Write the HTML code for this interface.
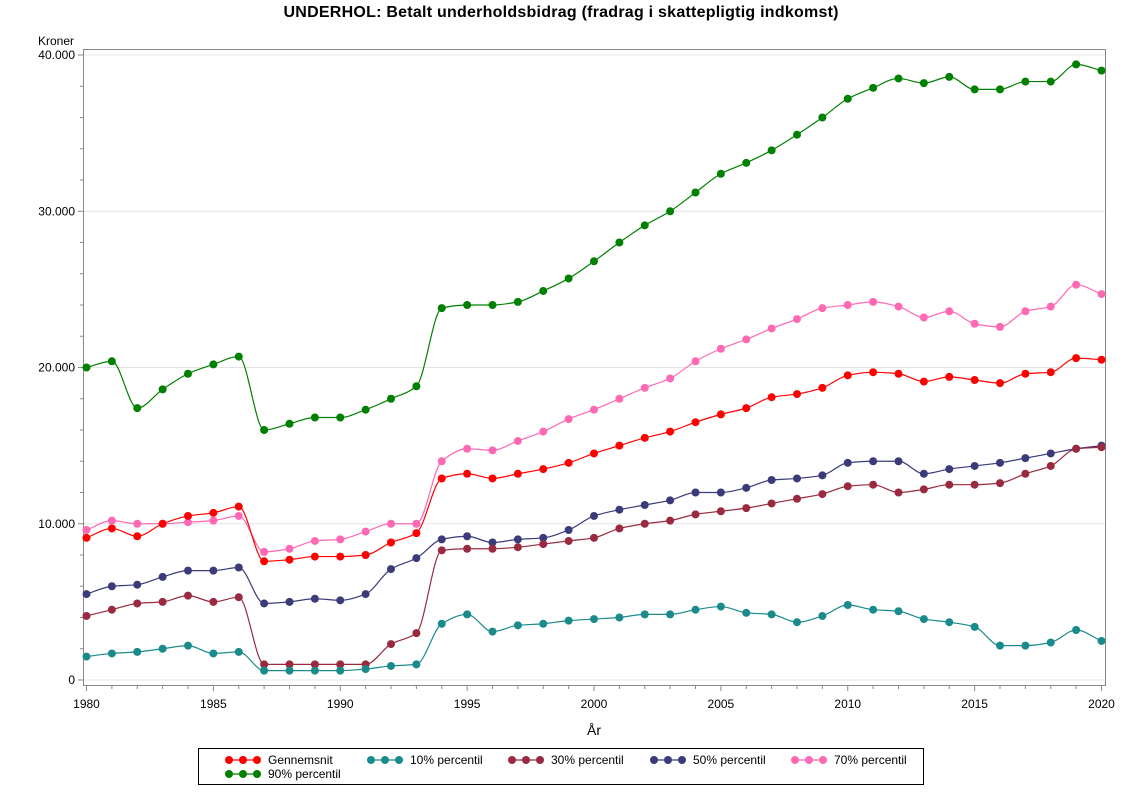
<!DOCTYPE html>
<html><head><meta charset="utf-8"><style>
body{margin:0;background:#fff;font-family:"Liberation Sans",Arial,sans-serif}
</style></head><body>
<svg id="s" width="1122" height="793" xmlns="http://www.w3.org/2000/svg" font-family="Liberation Sans, Arial, sans-serif">
<text x="561" y="17" text-anchor="middle" font-size="16" font-weight="bold" textLength="555">UNDERHOL:  Betalt underholdsbidrag (fradrag i skattepligtig indkomst)</text>
<text x="38" y="45" font-size="12">Kroner</text>
<g id="grid"></g>
<rect x="83.5" y="49.5" width="1022" height="636" fill="none" stroke="#888"/>
<g id="ticks" font-size="12"></g>
<text x="594" y="735" text-anchor="middle" font-size="14">År</text>
<g id="series"></g>
<rect x="198.5" y="748.5" width="725" height="36" fill="#fff" stroke="#000"/>
<g id="legend" font-size="12"></g>
</svg>
<script>
const X=y=>86.5+(y-1980)*25.375, Y=v=>680-v*625/40000;
const ns="http://www.w3.org/2000/svg";
function el(p,t,a,txt){const e=document.createElementNS(ns,t);for(const k in a)e.setAttribute(k,a[k]);if(txt!=null)e.textContent=txt;document.getElementById(p).appendChild(e);return e;}
for(let v=0;v<=40000;v+=2000){const y=Y(v);
 el("ticks","line",{x1:v%10000?80:78,x2:83,y1:y,y2:y,stroke:"#888"});
 if(v%10000==0){el("grid","line",{x1:84,x2:1105,y1:y,y2:y,stroke:"#e4e4e4"});
 el("ticks","text",{x:75,y:y+4,"text-anchor":"end"},v?(v/1000)+".000":"0");}}
for(let yr=1980;yr<=2020;yr++){const x=X(yr);el("ticks","line",{x1:x,x2:x,y1:686,y2:yr%5?689:691,stroke:"#888"});
 if(yr%5==0)el("ticks","text",{x:x,y:708,"text-anchor":"middle"},yr);}
const S=[
["#008000",[20000,20400,17400,18600,19600,20200,20700,16000,16400,16800,16800,17300,18000,18800,23800,24000,24000,24200,24900,25700,26800,28000,29100,30000,31200,32400,33100,33900,34900,36000,37200,37900,38500,38200,38600,37800,37800,38300,38300,39400,39000]],
["#ff69b4",[9600,10200,10000,10000,10100,10200,10500,8200,8400,8900,9000,9500,10000,10000,14000,14800,14700,15300,15900,16700,17300,18000,18700,19300,20400,21200,21800,22500,23100,23800,24000,24200,23900,23200,23600,22800,22600,23600,23900,25300,24700]],
["#ff0000",[9100,9700,9200,10000,10500,10700,11100,7600,7700,7900,7900,8000,8800,9400,12900,13200,12900,13200,13500,13900,14500,15000,15500,15900,16500,17000,17400,18100,18300,18700,19500,19700,19600,19100,19400,19200,19000,19600,19700,20600,20500]],
["#3b3b7a",[5500,6000,6100,6600,7000,7000,7200,4900,5000,5200,5100,5500,7100,7800,9000,9200,8800,9000,9100,9600,10500,10900,11200,11500,12000,12000,12300,12800,12900,13100,13900,14000,14000,13200,13500,13700,13900,14200,14500,14800,15000]],
["#992a40",[4100,4500,4900,5000,5400,5000,5300,1000,1000,1000,1000,1000,2300,3000,8300,8400,8400,8500,8700,8900,9100,9700,10000,10200,10600,10800,11000,11300,11600,11900,12400,12500,12000,12200,12500,12500,12600,13200,13700,14800,14900]],
["#1a8a8a",[1500,1700,1800,2000,2200,1700,1800,600,600,600,600,700,900,1000,3600,4200,3100,3500,3600,3800,3900,4000,4200,4200,4500,4700,4300,4200,3700,4100,4800,4500,4400,3900,3700,3400,2200,2200,2400,3200,2500]]];
S.forEach(([c,d])=>{const p=d.map((v,i)=>[X(1980+i),Y(v)]);const n=p.length;
 const m=[];const dl=[];for(let i=0;i<n-1;i++)dl.push((p[i+1][1]-p[i][1])/(p[i+1][0]-p[i][0]));
 for(let i=0;i<n;i++){if(i==0)m.push(dl[0]);else if(i==n-1)m.push(dl[n-2]);else m.push(dl[i-1]*dl[i]<=0?0:2/(1/dl[i-1]+1/dl[i]));}
 let s="M"+p[0][0]+","+p[0][1];
 for(let i=0;i<n-1;i++){const h=(p[i+1][0]-p[i][0])/3;s+=` C${p[i][0]+h},${p[i][1]+m[i]*h} ${p[i+1][0]-h},${p[i+1][1]-m[i+1]*h} ${p[i+1][0]},${p[i+1][1]}`;}
 el("series","path",{d:s,fill:"none",stroke:c,"stroke-width":1.2});
 p.forEach(q=>el("series","circle",{cx:q[0],cy:q[1],r:4,fill:c}));});
const L=[["#ff0000","Gennemsnit",229,760],["#1a8a8a","10% percentil",371,760],["#992a40","30% percentil",512,760],["#3b3b7a","50% percentil",654,760],["#ff69b4","70% percentil",795,760],["#008000","90% percentil",229,774]];
L.forEach(([c,t,x,y])=>{el("legend","line",{x1:x,x2:x+28,y1:y,y2:y,stroke:c,"stroke-width":1.2});
 [0,14,28].forEach(o=>el("legend","circle",{cx:x+o,cy:y,r:4,fill:c}));
 el("legend","text",{x:x+39,y:y+4},t);});
</script>
</body></html>
